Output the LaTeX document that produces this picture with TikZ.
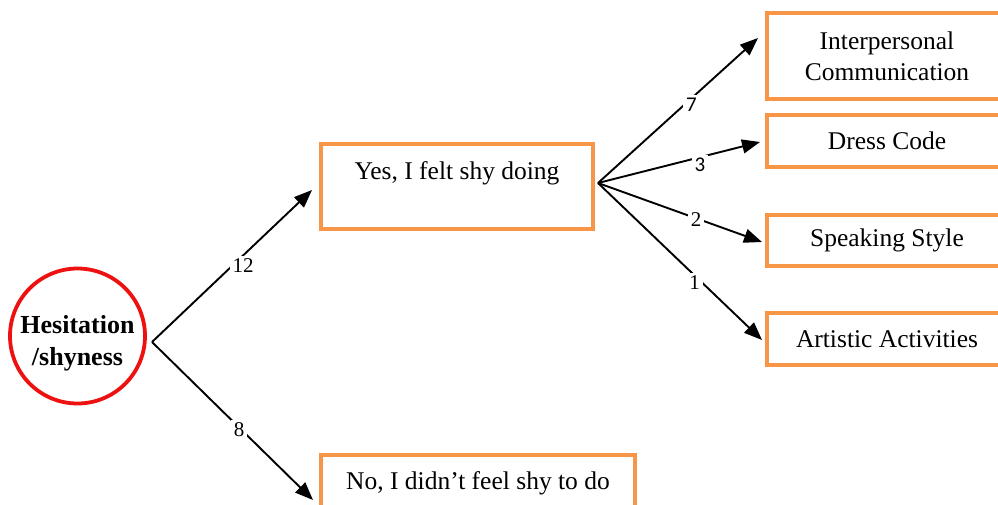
\documentclass[tikz,border=0pt]{standalone}
\usepackage{fontspec}
\setmainfont{Liberation Serif}
\newfontfamily\numsans{Carlito}
\usetikzlibrary{arrows.meta}
\definecolor{boxorange}{HTML}{F79646}
\definecolor{ringred}{HTML}{EE1111}
\begin{document}
\begin{tikzpicture}[x=1pt,y=-1pt,
  every node/.style={font=\fontsize{25.5}{31}\selectfont},
  catbox/.style={draw=boxorange,line width=3.8pt,inner sep=0pt,align=center},
  link/.style={line width=1.9pt,-{Triangle[length=18pt,width=14pt]}},
  count/.style={fill=white,inner sep=3pt,font=\fontsize{21}{22}\selectfont},
  sanscount/.style={count,font=\numsans\fontsize{21}{22}\selectfont}]
\useasboundingbox (0,0) rectangle (998,504);
\clip (0,0) rectangle (998,504);

% root topic
\node[circle,draw=ringred,line width=3.8pt,minimum size=135pt,inner sep=0pt,
      font=\bfseries\fontsize{26}{32}\selectfont]
      (root) at (77.5,336)
      {\raisebox{-7pt}[\height][\depth]{\begin{tabular}{@{}c@{}}Hesitation\\/shyness\end{tabular}}};

% first-level answers
\node[catbox,minimum width=272pt,minimum height=85pt] (yes) at (457,186.5)
      {\raisebox{13.5pt}[\height][\depth]{Yes, I felt shy doing}};
\node[catbox,minimum width=314pt,minimum height=57pt] (no) at (478,483.5)
      {No, I didn't feel shy to do};

% activities
\node[catbox,minimum width=240pt,minimum height=86pt] (inter) at (887,56)
      {Interpersonal\\Communication};
\node[catbox,minimum width=240pt,minimum height=52pt] (dress) at (887,141)
      {Dress Code};
\node[catbox,minimum width=240pt,minimum height=51pt] (speak) at (887,240.5)
      {Speaking Style};
\node[catbox,minimum width=240pt,minimum height=52pt] (art) at (887,339)
      {Artistic Activities};

% branch points and arrow tips
\coordinate (hub) at (152,342);
\coordinate (fan) at (598,183);
\coordinate (yesTip) at (312,190);
\coordinate (noTip) at (313,500);
\coordinate (interTip) at (758,38);
\coordinate (dressTip) at (760,142);
\coordinate (speakTip) at (762,242);
\coordinate (artTip) at (762,340);

\draw[link] (hub) -- (yesTip);
\draw[link] (hub) -- (noTip);
\draw[link] (fan) -- (interTip);
\draw[link] (fan) -- (dressTip);
\draw[link] (fan) -- (speakTip);
\draw[link] (fan) -- (artTip);

% counts, set on white so they break the arrows
\node[count] (c12) at (243,265.5) {12};
\node[count] (c8) at (239,430) {8};
\node[sanscount] (c7) at (691.5,104.5) {7};
\node[sanscount] (c3) at (700,165) {3};
\node[count] (c2) at (696,220) {2};
\node[count] (c1) at (694.5,282.5) {1};
\end{tikzpicture}
\end{document}
